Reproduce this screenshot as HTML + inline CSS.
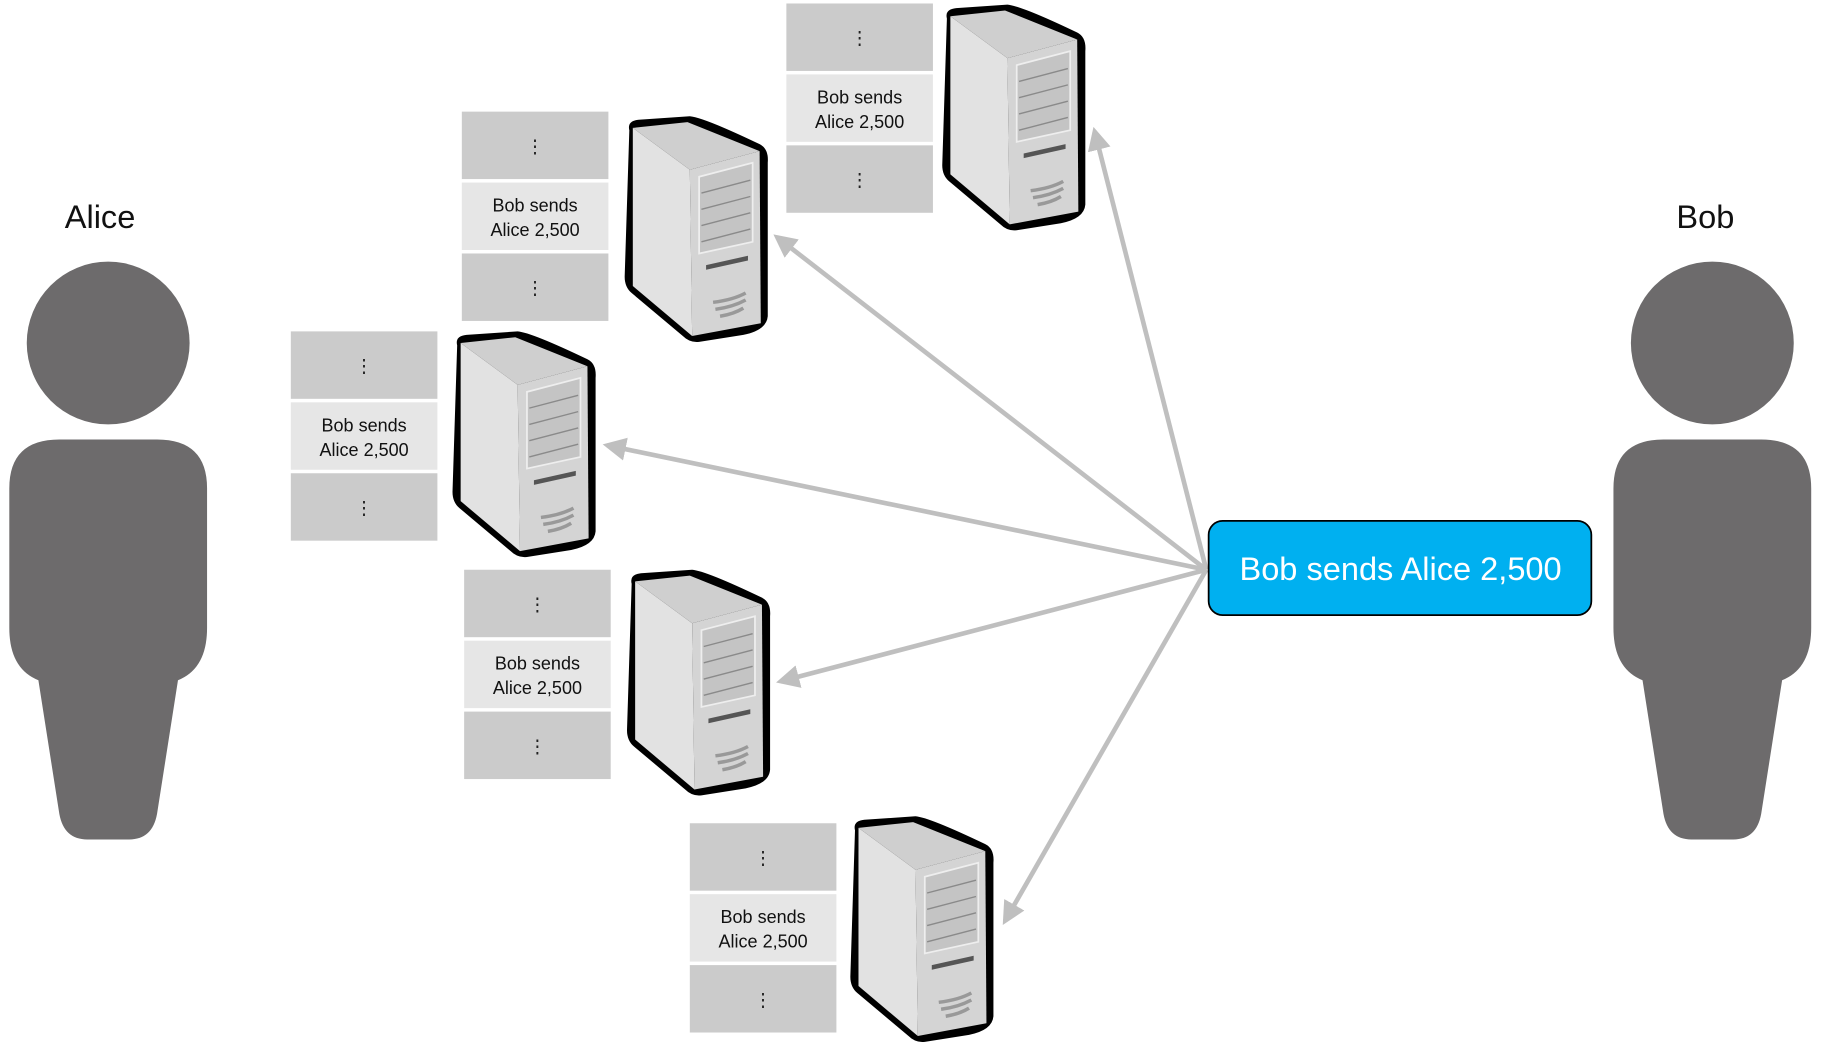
<!DOCTYPE html>
<html><head><meta charset="utf-8"><style>
html,body{margin:0;padding:0;background:#fff;overflow:hidden}
svg{display:block}
text{font-family:"Liberation Sans",sans-serif}
</style></head><body>
<svg width="1824" height="1043" viewBox="0 0 1568 897" preserveAspectRatio="none" xmlns="http://www.w3.org/2000/svg">
<defs>
<g id="srv">
  <path d="M6,12 Q4,4 14,3 L58,0 Q70,1 118,24 Q126,28 125,40 L125,172 Q124,184 104,188 L66,194 Q58,195 52,189 L8,152 Q2,147 2,138 Z" fill="#000"/>
  <polygon points="9,10 58,46 60,189 9,146" fill="#e2e2e2"/>
  <polygon points="9,10 56,5 118,30 58,46" fill="#cfcfcf"/>
  <polygon points="58,46 118,30 119,178 60,189" fill="#d4d4d4"/>
  <polygon points="66,52 112,40 112,108 66,118" fill="#c4c4c4" stroke="#eee" stroke-width="1.5"/>
  <path d="M68,66 L110,55 M68,80 L110,69 M68,94 L110,83 M68,108 L110,97" stroke="#8a8a8a" stroke-width="1.2"/>
  <path d="M72,128 L108,120 L108,124 L72,132 Z" fill="#555"/>
  <path d="M78,160 Q95,158 106,152 M80,166 Q95,164 106,158 M84,172 Q96,170 104,165" stroke="#999" stroke-width="3" fill="none"/>
</g>
<g id="stk">
  <rect x="0" y="0" width="126" height="58" fill="#cbcbcb"/>
  <rect x="0" y="61" width="126" height="58" fill="#e6e6e6"/>
  <rect x="0" y="122" width="126" height="58" fill="#cbcbcb"/>
  <text x="63" y="35" font-size="16" text-anchor="middle" fill="#222">⋮</text>
  <text x="63" y="86" font-size="15.5" text-anchor="middle" fill="#111">Bob sends</text>
  <text x="63" y="107" font-size="15.5" text-anchor="middle" fill="#111">Alice 2,500</text>
  <text x="63" y="157" font-size="16" text-anchor="middle" fill="#222">⋮</text>
</g>
<marker id="ah" markerWidth="5" markerHeight="5" refX="4" refY="2.5" orient="auto"><path d="M0,0 L5,2.5 L0,5 Z" fill="#bfbfbf"/></marker>
<g id="person">
  <circle cx="0" cy="295" r="70" fill="#6d6b6c"/>
  <path d="M-85,420 Q-85,378 -42,378 L42,378 Q85,378 85,420 L85,540 Q85,575 60,585 L42,700 Q38,722 18,722 L-18,722 Q-38,722 -42,700 L-60,585 Q-85,575 -85,540 Z" fill="#6d6b6c"/>
</g>
</defs>

<use href="#person" x="93"/>
<use href="#person" x="1472"/>
<text x="86" y="196" font-size="28" text-anchor="middle" fill="#111">Alice</text>
<text x="1466" y="196" font-size="28" text-anchor="middle" fill="#111">Bob</text>

<g stroke="#bfbfbf" stroke-width="4" fill="none" marker-end="url(#ah)">
  <line x1="1037" y1="490" x2="668" y2="204"/>
  <line x1="1037" y1="490" x2="941" y2="113"/>
  <line x1="1037" y1="490" x2="522" y2="383"/>
  <line x1="1037" y1="490" x2="671" y2="586"/>
  <line x1="1037" y1="490" x2="864" y2="792"/>
</g>

<use href="#stk" x="397" y="96"/>
<use href="#stk" x="676" y="3"/>
<use href="#stk" x="250" y="285"/>
<use href="#stk" x="399" y="490"/>
<use href="#stk" x="593" y="708"/>

<use href="#srv" x="535" y="100"/>
<use href="#srv" x="808" y="4"/>
<use href="#srv" x="387" y="285"/>
<use href="#srv" x="537" y="490"/>
<use href="#srv" x="729" y="702"/>

<rect x="1039" y="448" width="329" height="81" rx="12" fill="#00b0f0" stroke="#000" stroke-width="1.5"/>
<text x="1204" y="499" font-size="28" text-anchor="middle" fill="#fff">Bob sends Alice 2,500</text>
</svg>
</body></html>
